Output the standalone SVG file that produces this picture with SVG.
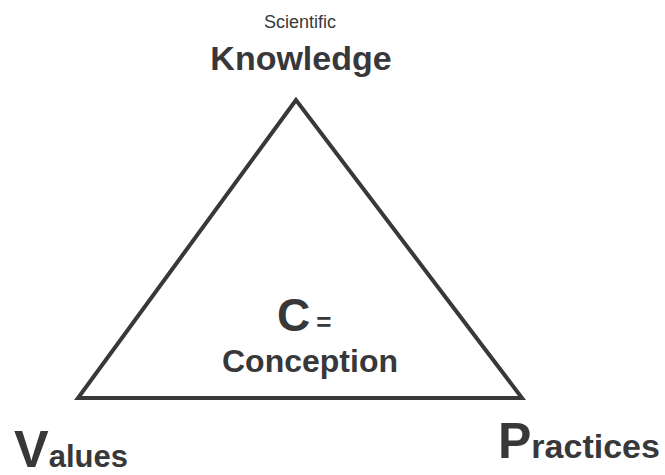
<svg xmlns="http://www.w3.org/2000/svg" width="665" height="475" viewBox="0 0 665 475">
<style>
text{font-family:"Liberation Sans",Arial,Helvetica,sans-serif;fill:#38383a}
.b{font-weight:bold}
.tri{fill:none;stroke:#38383a;stroke-width:4;stroke-linejoin:miter}
</style>
<rect width="665" height="475" fill="#fff"/>
<g id="connectors">
<polygon class="tri" points="296,100 78,398 522,398"/>
</g>
<g id="knowledge">
<text x="300" y="28" font-size="18" text-anchor="middle">Scientific</text>
<text x="301" y="70" font-size="34" class="b" text-anchor="middle">Knowledge</text>
</g>
<g id="conception">
<text x="277" y="331" class="b"><tspan font-size="46">C</tspan><tspan font-size="26" dx="6">=</tspan></text>
<text x="310" y="372" font-size="32" class="b" text-anchor="middle">Conception</text>
</g>
<g id="values">
<text x="14" y="467" class="b"><tspan font-size="52">V</tspan><tspan font-size="31">alues</tspan></text>
</g>
<g id="practices">
<text x="498" y="458" class="b"><tspan font-size="50">P</tspan><tspan font-size="34">ractices</tspan></text>
</g>
</svg>
